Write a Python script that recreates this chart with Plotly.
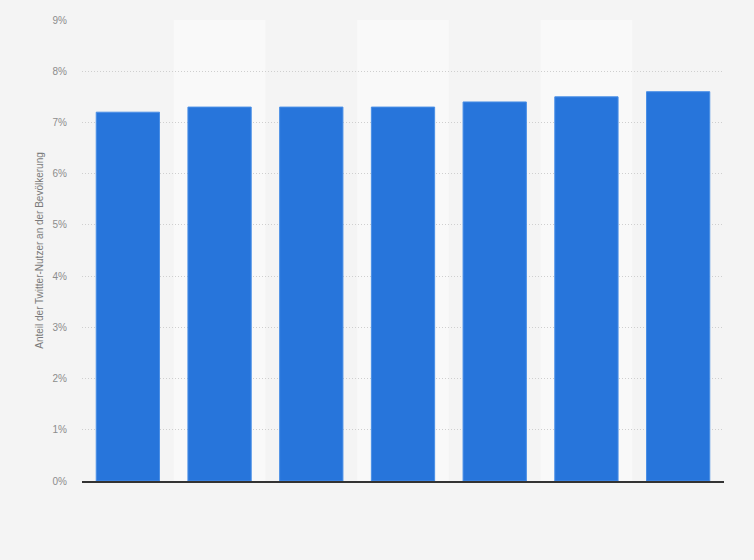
import plotly.graph_objects as go

# seven unlabeled categories (years not shown in the picture)
categories = ["1", "2", "3", "4", "5", "6", "7"]
shares = [7.2, 7.3, 7.3, 7.3, 7.4, 7.5, 7.6]
tick_vals = [0, 1, 2, 3, 4, 5, 6, 7, 8, 9]
tick_text = [f"{v}%" for v in tick_vals]

fig = go.Figure()
fig.add_bar(
    x=categories,
    y=shares,
    marker=dict(color="#2775db", line=dict(color="#4a8fe6", width=1)),
    width=0.69,
    hoverinfo="skip",
)

# lighter column bands behind every second category
for i in range(1, len(categories), 2):
    fig.add_shape(
        type="rect", xref="x", yref="y",
        x0=i - 0.5, x1=i + 0.5, y0=0, y1=9,
        fillcolor="#f9f9f9", line=dict(width=0), layer="below",
    )

fig.update_layout(
    width=754,
    height=560,
    paper_bgcolor="#f4f4f4",
    plot_bgcolor="#f4f4f4",
    margin=dict(l=82, r=30, t=20, b=79),
    showlegend=False,
    font=dict(family="Liberation Sans, Arial, sans-serif", color="#8c8c8c", size=10),
)
fig.update_xaxes(
    showticklabels=False,
    showgrid=False,
    showline=True,
    linecolor="#333333",
    linewidth=1.5,
    ticks="",
    range=[-0.5, 6.5],
)
fig.update_yaxes(
    range=[0, 9],
    tickvals=tick_vals,
    ticktext=tick_text,
    showgrid=True,
    gridcolor="#cfcfcf",
    griddash="1px,2px",
    gridwidth=1,
    zeroline=False,
    ticks="",
    ticklabelstandoff=14,
    title=dict(text="Anteil der Twitter-Nutzer an der Bevölkerung",
               font=dict(size=10, color="#7a7a7a"), standoff=7),
)

fig.write_html(
    "out.html",
    config={"displayModeBar": False},
    post_script="document.body.style.margin='0';",
)
